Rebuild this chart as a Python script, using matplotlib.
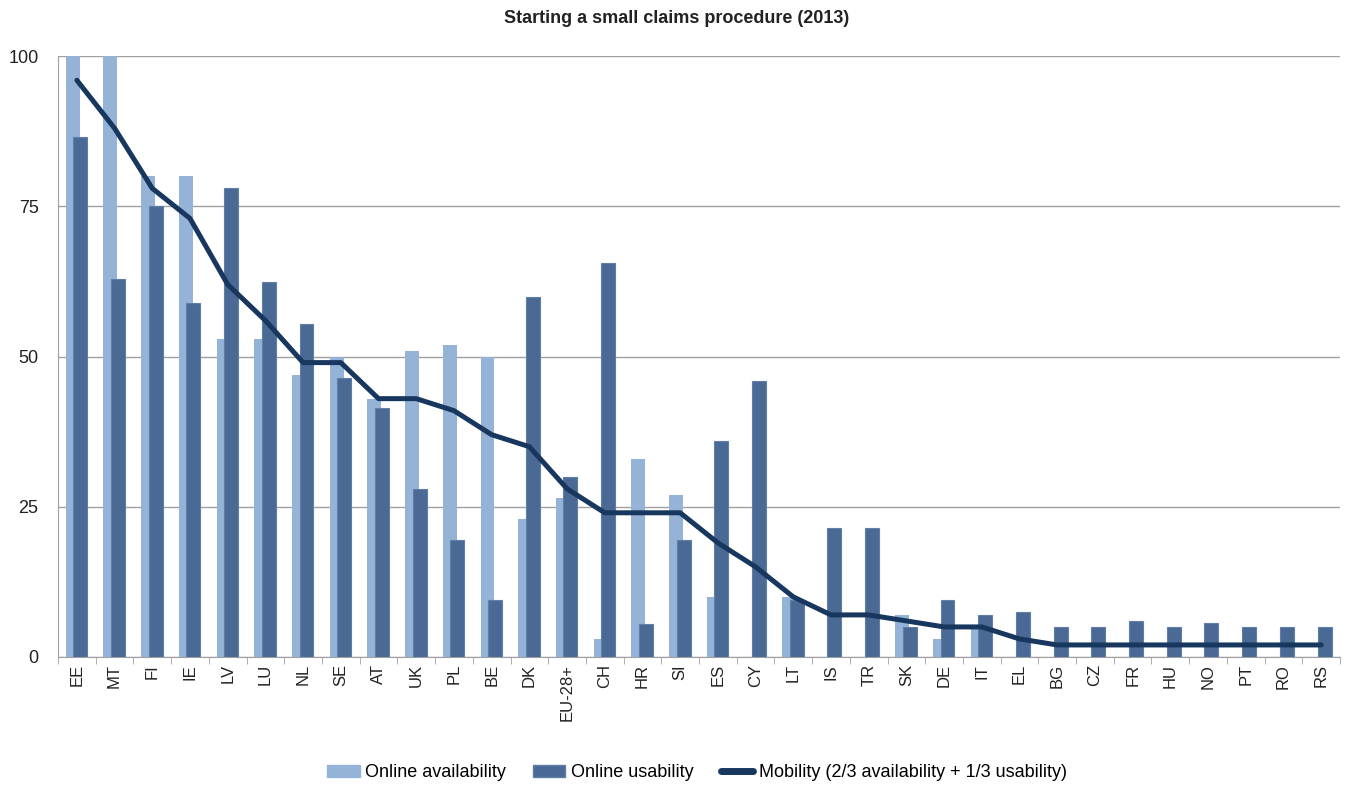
import matplotlib
matplotlib.use("Agg")
import matplotlib.pyplot as plt
import numpy as np
from matplotlib.lines import Line2D
from matplotlib.patches import Patch

countries = ["EE", "MT", "FI", "IE", "LV", "LU", "NL", "SE", "AT", "UK", "PL", "BE",
             "DK", "EU-28+", "CH", "HR", "SI", "ES", "CY", "LT", "IS", "TR", "SK", "DE",
             "IT", "EL", "BG", "CZ", "FR", "HU", "NO", "PT", "RO", "RS"]
availability = [100, 100, 80, 80, 53, 53, 47, 50, 43, 51, 52, 50,
                23, 26.5, 3, 33, 27, 10, 0, 10, 0, 0, 7, 3,
                5, 0, 0, 0, 0, 0, 0, 0, 0, 0]
usability = [86.5, 63, 75, 59, 78, 62.5, 55.5, 46.5, 41.5, 28, 19.5, 9.5,
             60, 30, 65.5, 5.5, 19.5, 36, 46, 9.5, 21.5, 21.5, 5, 9.5,
             7, 7.5, 5, 5, 6, 5, 5.7, 5, 5, 5]
mobility = [96, 88, 78, 73, 62, 56, 49, 49, 43, 43, 41, 37,
            35, 28, 24, 24, 24, 19, 15, 10, 7, 7, 6, 5,
            5, 3, 2, 2, 2, 2, 2, 2, 2, 2]

c_light = "#95B3D7"
c_dark = "#4A6A95"
c_line = "#17375E"
fam = ["Liberation Sans Narrow", "Liberation Sans", "DejaVu Sans"]

fig = plt.figure(figsize=(13.53, 7.92), dpi=100)
ax = fig.add_axes([0.0429, 0.1705, 0.9475, 0.7585])

x = np.arange(len(countries))
w = 0.37
ax.bar(x - 0.11, availability, w, color=c_light, zorder=2)
ax.bar(x + 0.09, usability, w, color=c_dark, edgecolor="#5F7FA8", linewidth=0.8, zorder=3)
ax.plot(x, mobility, color=c_line, linewidth=3.6, solid_capstyle="round",
        solid_joinstyle="round", zorder=4)

ax.set_xlim(-0.5, len(countries) - 0.5)
ax.set_ylim(0, 100)
ax.set_yticks([0, 25, 50, 75, 100])
ax.yaxis.grid(True, color="#A0A0A0", linewidth=1.0, zorder=0)
ax.set_axisbelow(True)
for lab in ax.get_yticklabels():
    lab.set_family(fam)
    lab.set_fontsize(13)
    lab.set_color("#222222")
ax.tick_params(axis="y", length=0, pad=14)

ax.set_xticks(x)
ax.set_xticklabels(countries, rotation=90, family=fam, fontsize=12, color="#222222")
ax.set_xticks(np.arange(len(countries) + 1) - 0.5, minor=True)
ax.tick_params(axis="x", which="major", length=0, pad=5)
ax.tick_params(axis="x", which="minor", length=5, color="#A0A0A0")

for s in ["top", "right"]:
    ax.spines[s].set_visible(False)
ax.spines["left"].set_color("#A0A0A0")
ax.spines["bottom"].set_color("#A0A0A0")

fig.text(0.5, 0.977, "Starting a small claims procedure (2013)", ha="center", va="center",
         family=fam, fontsize=13, fontweight="bold", color="#222222")

handles = [Patch(color=c_light), Patch(facecolor=c_dark, edgecolor="#5F7FA8"),
           Line2D([0], [0], color=c_line, linewidth=5, solid_capstyle="round")]
labels = ["Online availability", "Online usability", "Mobility (2/3 availability + 1/3 usability)"]
fig.legend(handles, labels, loc="center", bbox_to_anchor=(0.515, 0.024), ncol=3,
           frameon=False, prop={"family": fam, "size": 13}, handlelength=1.8,
           handleheight=0.6, handletextpad=0.3, columnspacing=1.5)

fig.savefig("out.png", dpi=100)
